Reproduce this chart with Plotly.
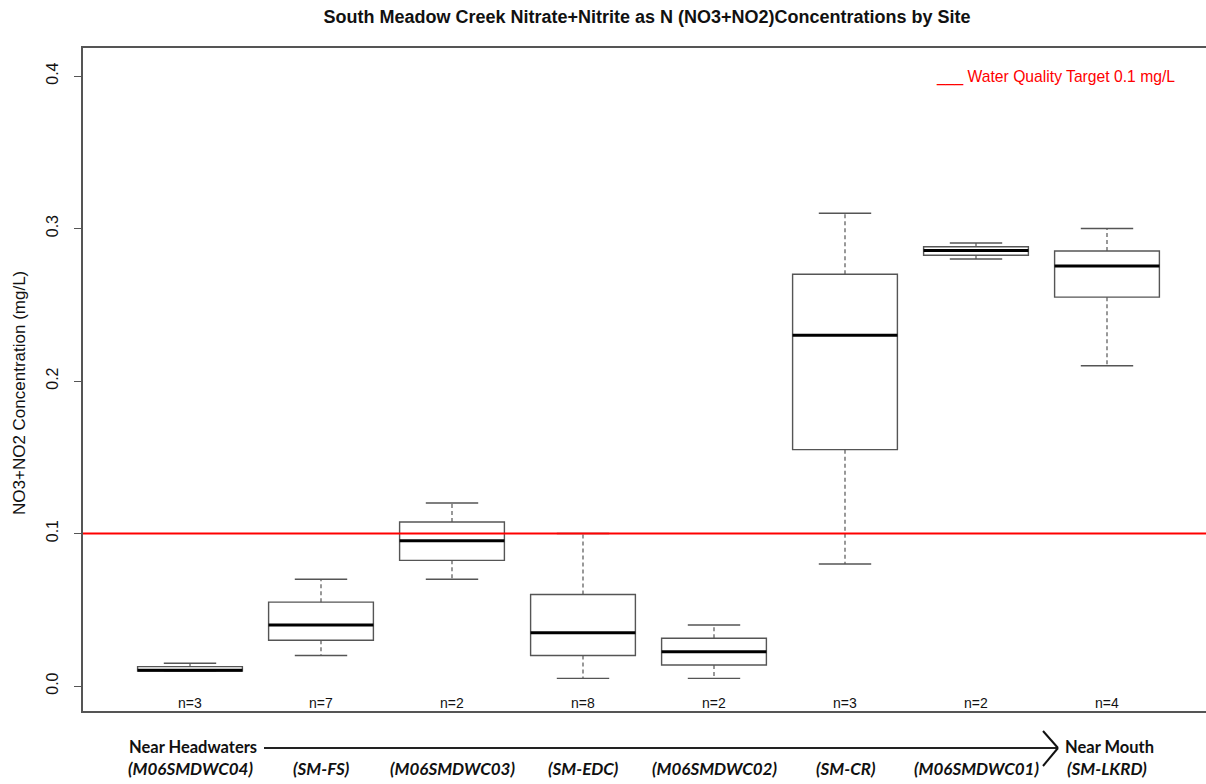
import plotly.graph_objects as go

# ---- data ----
sites = ["(M06SMDWC04)", "(SM-FS)", "(M06SMDWC03)", "(SM-EDC)",
         "(M06SMDWC02)", "(SM-CR)", "(M06SMDWC01)", "(SM-LKRD)"]
n_obs = [3, 7, 2, 8, 2, 3, 2, 4]
lower_whisker = [0.0098, 0.020, 0.070, 0.005, 0.005, 0.080, 0.280, 0.210]
q1_vals       = [0.0098, 0.030, 0.0824, 0.020, 0.0138, 0.155, 0.2825, 0.255]
median_vals   = [0.0103, 0.040, 0.0953, 0.035, 0.0225, 0.230, 0.2855, 0.2754]
q3_vals       = [0.0127, 0.055, 0.1075, 0.060, 0.0313, 0.270, 0.288, 0.2852]
upper_whisker = [0.0149, 0.070, 0.120, 0.100, 0.040, 0.310, 0.2905, 0.300]
target = 0.1
y_ticks = [0.0, 0.1, 0.2, 0.3, 0.4]

positions = list(range(1, len(sites) + 1))

# ---- layout geometry (pixels) ----
# The original plot frame runs past the right edge of the image, so the
# figure is made a little wider than the 1206 px window and the overflow hidden.
W, H = 1240, 784
L, R, T, B = 83, 0, 48, 73
PW, PH = W - L - R, H - T - B


def px_x(px):
    return (px - L) / PW


def px_y(py):
    return (H - B - py) / PH


BOX_W = 0.8
CAP_W = 0.4
box_col = "#555555"
SANS = "Liberation Sans, Arial, sans-serif"
CAL = "Lato, Open Sans, sans-serif"

fig = go.Figure()

fig.add_trace(go.Box(
    x=positions, q1=q1_vals, median=median_vals, q3=q3_vals,
    lowerfence=q1_vals, upperfence=q3_vals,
    width=BOX_W, fillcolor="white",
    line=dict(color=box_col, width=1.4),
    whiskerwidth=0, boxpoints=False, showlegend=False, hoverinfo="skip",
))

wx, wy, cx, cy, mx, my = [], [], [], [], [], []
for p, lo, a, m, b, hi in zip(positions, lower_whisker, q1_vals, median_vals,
                              q3_vals, upper_whisker):
    wx += [p, p, None, p, p, None]
    wy += [b, hi, None, a, lo, None]
    cx += [p - CAP_W / 2, p + CAP_W / 2, None, p - CAP_W / 2, p + CAP_W / 2, None]
    cy += [hi, hi, None, lo, lo, None]
    mx += [p - BOX_W / 2, p + BOX_W / 2, None]
    my += [m, m, None]

fig.add_trace(go.Scatter(x=wx, y=wy, mode="lines", showlegend=False,
                         line=dict(color=box_col, width=1.2, dash="4px,3px"),
                         hoverinfo="skip"))
fig.add_trace(go.Scatter(x=cx, y=cy, mode="lines", showlegend=False,
                         line=dict(color=box_col, width=1.4), hoverinfo="skip"))
fig.add_trace(go.Scatter(x=mx, y=my, mode="lines", showlegend=False,
                         line=dict(color="black", width=3), hoverinfo="skip"))

ann = []
for p, n in zip(positions, n_obs):
    ann.append(dict(x=p, xref="x", y=px_y(703), yref="paper", text=f"n={n}",
                    showarrow=False, xanchor="center", yanchor="middle",
                    font=dict(family=SANS, size=14, color="#111")))
for p, s in zip(positions, sites):
    ann.append(dict(x=p, xref="x", y=px_y(769), yref="paper",
                    text=f"<b><i>{s}</i></b>", showarrow=False,
                    xanchor="center", yanchor="middle",
                    font=dict(family=CAL, size=17, color="#111")))
ann.append(dict(x=px_x(127), xref="paper", y=px_y(747), yref="paper",
                text="<b>Near Headwaters</b>", showarrow=False,
                xanchor="left", yanchor="middle",
                font=dict(family=CAL, size=16.5, color="#111")))
ann.append(dict(x=px_x(1063), xref="paper", y=px_y(747), yref="paper",
                text="<b>Near Mouth</b>", showarrow=False,
                xanchor="left", yanchor="middle",
                font=dict(family=CAL, size=16.5, color="#111")))
ann.append(dict(x=px_x(934), xref="paper", y=px_y(77), yref="paper",
                text="___ Water Quality Target 0.1 mg/L", showarrow=False,
                xanchor="left", yanchor="middle",
                font=dict(family=SANS, size=15.7, color="#ff0000")))
ann.append(dict(x=px_x(20), xref="paper", y=px_y(393), yref="paper",
                text="NO3+NO2 Concentration (mg/L)", showarrow=False, textangle=-90,
                xanchor="center", yanchor="middle",
                font=dict(family=SANS, size=17, color="#111")))

shapes = [
    dict(type="line", xref="paper", yref="y", x0=0, x1=1, y0=target, y1=target,
         line=dict(color="#ff0000", width=2.2)),
    # direction arrow
    dict(type="line", xref="paper", yref="paper", x0=px_x(264), x1=px_x(1057),
         y0=px_y(748), y1=px_y(748), line=dict(color="#222", width=2)),
    dict(type="line", xref="paper", yref="paper", x0=px_x(1043), x1=px_x(1058),
         y0=px_y(731), y1=px_y(748), line=dict(color="#111", width=2)),
    dict(type="line", xref="paper", yref="paper", x0=px_x(1043), x1=px_x(1058),
         y0=px_y(766), y1=px_y(748), line=dict(color="#111", width=2)),
]

fig.update_layout(
    width=W, height=H,
    margin=dict(l=L, r=R, t=T, b=B, pad=0),
    paper_bgcolor="white", plot_bgcolor="white",
    title=dict(text="<b>South Meadow Creek Nitrate+Nitrite as N (NO3+NO2)Concentrations by Site</b>",
               x=px_x(647), xref="paper", xanchor="center", y=1 - 17 / H, yanchor="middle",
               font=dict(family=SANS, size=18, color="#111")),
    annotations=ann, shapes=shapes,
    xaxis=dict(range=[1 - (190 - L) / 131, 1 + (W - 190) / 131],
               showticklabels=False, ticks="", showgrid=False, zeroline=False,
               showline=True, mirror=True, linecolor="#555", linewidth=1.5),
    yaxis=dict(range=[(686 - 711) / 1525, (686 - 48) / 1525],
               tickvals=y_ticks, tickformat=".1f", tickangle=-90,
               ticks="outside", ticklen=7, tickcolor="#555", tickwidth=1.2,
               ticklabelstandoff=10,
               tickfont=dict(family=SANS, size=16, color="#111"),
               showgrid=False, zeroline=False, showline=True, mirror=False,
               linecolor="#555", linewidth=1.5),
)

fig.write_html("out.html", config={"displayModeBar": False},
               post_script="document.documentElement.style.overflow='hidden';"
                           "document.body.style.margin='0';document.body.style.overflow='hidden';")
